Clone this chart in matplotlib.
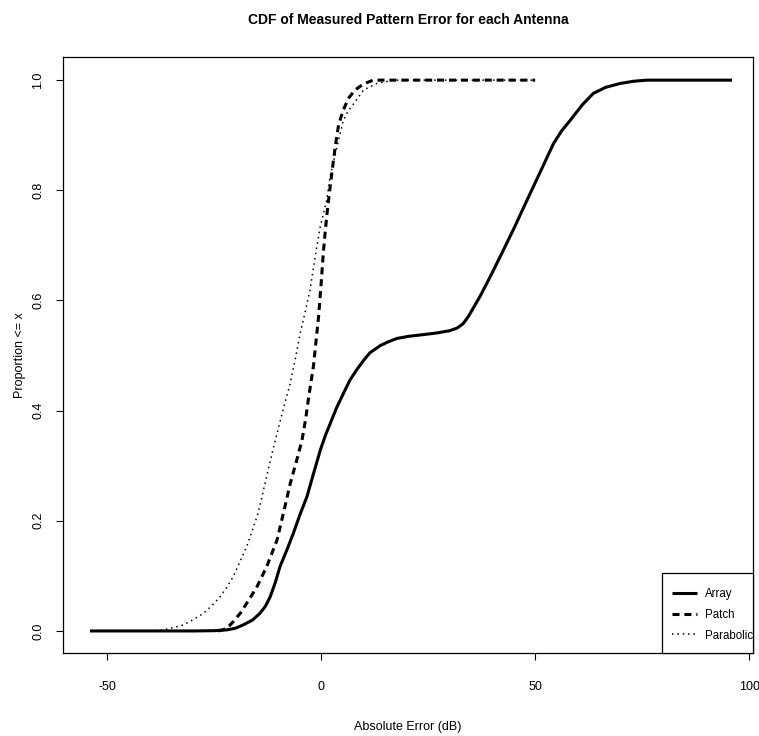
import matplotlib
matplotlib.use("Agg")
import matplotlib.pyplot as plt
from matplotlib import font_manager
from matplotlib.patches import Rectangle

fams = {f.name for f in font_manager.fontManager.ttflist}
FAM = ["Liberation Sans Narrow", "Liberation Sans", "DejaVu Sans"]
FAM = [f for f in FAM if f in fams] + ["DejaVu Sans"]
plt.rcParams['font.family'] = FAM

# ---- data ----
array_x = [-54, -30, -25, -22, -20, -18.2, -16, -14.3, -13, -11.9, -10.7, -9.6, -8, -6.5,
           -5, -3.3, -1.8, -0.2, 1, 2.1, 3.6, 5.2, 6.7, 8.3, 10, 11.4, 13.8, 15.7, 17.7,
           20.5, 23.9, 27, 30, 31.8, 33.2, 34.5, 35.6, 37.1, 39.5, 41.8, 45, 48.1, 51.3,
           54.3, 56.2, 58.2, 61, 63.6, 66.5, 69.9, 73, 76.1, 96]
array_y = [0.0, 0.0, 0.0005, 0.002, 0.005, 0.011, 0.02, 0.032, 0.045, 0.062, 0.088, 0.117,
           0.147, 0.177, 0.21, 0.244, 0.285, 0.328, 0.355, 0.376, 0.405, 0.431, 0.455, 0.474,
           0.492, 0.505, 0.518, 0.525, 0.531, 0.535, 0.538, 0.541, 0.545, 0.550, 0.558, 0.572,
           0.587, 0.607, 0.643, 0.679, 0.730, 0.782, 0.835, 0.885, 0.908, 0.927, 0.955, 0.976,
           0.987, 0.994, 0.998, 1.0, 1.0]

patch_x = [-24, -23, -22, -20.5, -18.9, -17, -15, -12.7, -10.3, -8.8, -7.2, -5.7, -4.5,
           -3.6, -3.0, -2.4, -1.8, -1.2, -0.6, 0, 0.5, 0.9, 1.3, 1.9, 2.5, 3.3, 4.0, 4.6,
           5.2, 6.4, 7.9, 9.9, 12.2, 50]
patch_y = [0.0, 0.002, 0.005, 0.017, 0.032, 0.055, 0.080, 0.117, 0.165, 0.214, 0.268, 0.31,
           0.345, 0.385, 0.419, 0.45, 0.480, 0.525, 0.570, 0.63, 0.685, 0.72, 0.752, 0.793,
           0.831, 0.879, 0.915, 0.932, 0.946, 0.967, 0.982, 0.993, 1.0, 1.0]

para_x = [-40, -38.5, -36.8, -34.5, -32.2, -30, -27.5, -25.5, -23.6, -22, -20.5, -19,
          -17.4, -16.2, -15.0, -14, -13.1, -12.2, -11.1, -9.2, -7.2, -6, -4.9, -3.7, -2.6,
          -1.4, -0.2, 1.3, 2.1, 3.7, 5.2, 6.3, 7.6, 9.9, 13.0, 17, 50]
para_y = [0.0, 0.001, 0.002, 0.006, 0.011, 0.02, 0.032, 0.046, 0.062, 0.08, 0.099, 0.125,
          0.153, 0.18, 0.207, 0.237, 0.268, 0.298, 0.334, 0.392, 0.450, 0.495, 0.540, 0.58,
          0.619, 0.679, 0.734, 0.782, 0.825, 0.879, 0.927, 0.944, 0.957, 0.982, 0.994, 1.0, 1.0]

labels = ["Array", "Patch", "Parabolic"]
xticks = [-50, 0, 50, 100]
yticks = [0.0, 0.2, 0.4, 0.6, 0.8, 1.0]
ytick_labels = ["0.0", "0.2", "0.4", "0.6", "0.8", "1.0"]

W, H = 759, 736
L, R, T, B = 63, 753, 57, 653
fig = plt.figure(figsize=(W/100, H/100), dpi=100)
ax = fig.add_axes([L/W, 1-B/H, (R-L)/W, (B-T)/H])

ax.plot(array_x, array_y, color="black", lw=2.2, solid_capstyle="butt", label=labels[0])
ax.plot(patch_x, patch_y, color="black", lw=2.2, dashes=(2.3, 1.6), label=labels[1])
ax.plot(para_x, para_y, color="black", lw=1.1, dashes=(1, 2.5), label=labels[2])

ax.set_xlim(-60.3, 100.9)
ax.set_ylim(-0.04, 1.042)
ax.set_xticks(xticks)
ax.set_xticklabels([str(t) for t in xticks])
ax.set_yticks(yticks)
ax.set_yticklabels(ytick_labels, rotation=90, va="center")
ax.tick_params(direction="out", length=5, width=0.8, labelsize=9)
ax.tick_params(axis="x", pad=15)
ax.tick_params(axis="y", pad=8.5)
for s in ax.spines.values():
    s.set_linewidth(0.9)

ax.set_xlabel("Absolute Error (dB)", fontsize=9, labelpad=20.5)
ax.set_ylabel("Proportion <= x", fontsize=9, labelpad=4.5)
fig.suptitle("CDF of Measured Pattern Error for each Antenna", fontsize=10,
             fontweight="bold", x=(L+R)/2/W, y=1-20/H, va="center")

# legend box (R-style, flush with the bottom-right corner)
lx0, ly0, lx1, ly1 = 662, 573, R, B
ax.add_patch(Rectangle(((lx0-L)/(R-L), 0), (lx1-lx0)/(R-L), (ly1-ly0)/(B-T),
                       transform=ax.transAxes, facecolor="white", edgecolor="black",
                       lw=0.9, zorder=5, clip_on=False))
leg = ax.legend(loc="upper left", bbox_to_anchor=((672-L)/(R-L), (B-588)/(B-T)),
                frameon=False, fontsize=8.3, handlelength=2.15, handletextpad=0.72,
                borderpad=0, borderaxespad=0, labelspacing=0.76)
leg.set_zorder(6)

fig.savefig("out.png", dpi=100)
